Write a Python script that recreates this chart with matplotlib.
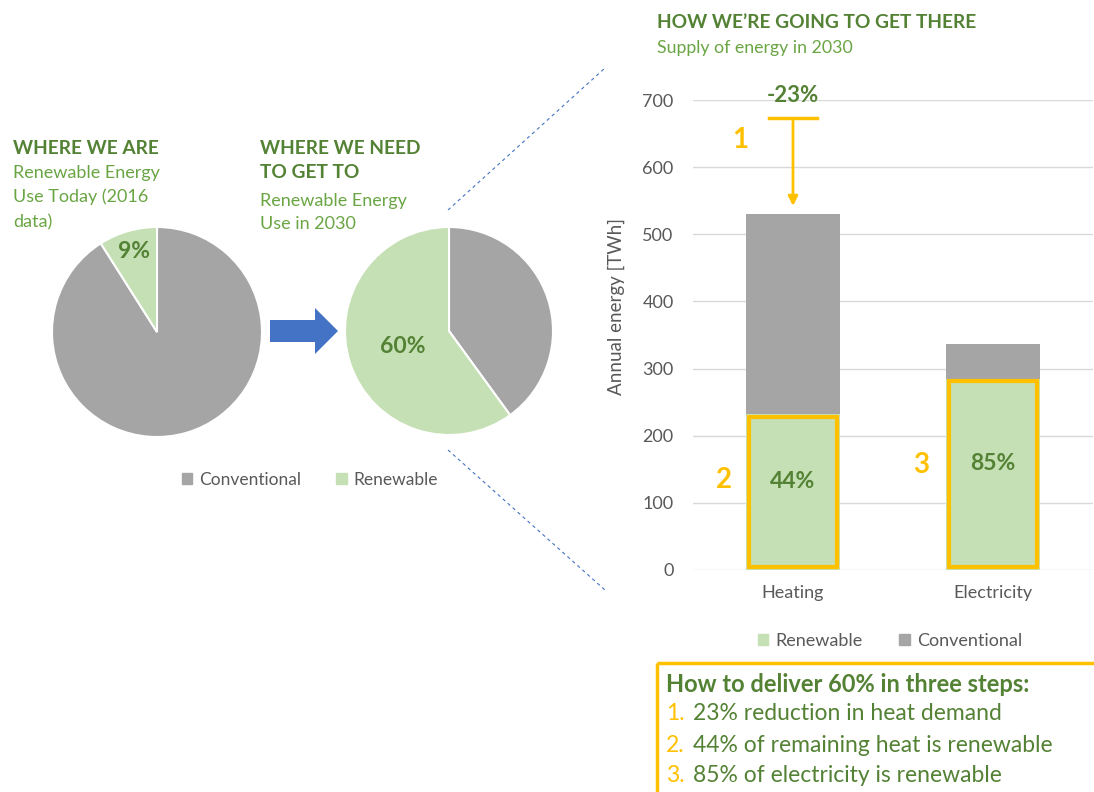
import numpy as np
import matplotlib
matplotlib.use("Agg")
import matplotlib.pyplot as plt
from matplotlib.patches import Patch, FancyArrow, Rectangle

plt.rcParams['font.family'] = ['Lato', 'DejaVu Sans']

W, H = 1094, 792

# pie data
pie_labels = ["Conventional", "Renewable"]
share_today = [91, 9]
share_2030 = [40, 60]
pie_text = ["9%", "60%"]

# bar data (TWh)
categories = ["Heating", "Electricity"]
renewable = [232, 285]
conventional = [298, 51]
renew_pct = ["44%", "85%"]
step_nums = ["2", "3"]
heat_before = 673
reduction_label = "-23%"

steps = ["23% reduction in heat demand",
         "44% of remaining heat is renewable",
         "85% of electricity is renewable"]

GREY = "#A5A5A5"
LGREEN = "#C5E0B4"
ORANGE = "#FFC000"
DGREEN = "#548235"
MGREEN = "#6AA544"
AXIS = "#595959"
BLUE = "#4472C4"

fig = plt.figure(figsize=(W / 100, H / 100), dpi=100)


def px_axes(x0, y0, w, h):
    return fig.add_axes([x0 / W, 1 - (y0 + h) / H, w / W, h / H])


# overlay in pixel coords for text and decorations
over = px_axes(0, 0, W, H)
over.set_xlim(0, W)
over.set_ylim(H, 0)
over.axis('off')

# --- pies
for (cx, cy, r, vals, lab, dist) in [(157, 332, 105, share_today, pie_text[0], 0.8),
                                     (449, 331, 104, share_2030, pie_text[1], 0.47)]:
    ax = px_axes(cx - r, cy - r, 2 * r, 2 * r)
    wedges, _ = ax.pie(vals, colors=[GREY, LGREEN], startangle=90, counterclock=False,
                       wedgeprops=dict(edgecolor='white', linewidth=1.5))
    ax.set_xlim(-1, 1)
    ax.set_ylim(-1, 1)
    w = wedges[1]
    mid = np.deg2rad((w.theta1 + w.theta2) / 2)
    ax.text(dist * np.cos(mid), dist * np.sin(mid), lab, ha='center', va='center',
            fontsize=16.5, fontweight='bold', color=DGREEN)

fig.legend(handles=[Patch(color=GREY, label=pie_labels[0]), Patch(color=LGREEN, label=pie_labels[1])],
           loc='center', bbox_to_anchor=(310 / W, 1 - 480 / H), ncol=2, frameon=False,
           handlelength=0.6, handleheight=0.6, handletextpad=0.4, columnspacing=2.0,
           fontsize=12.5, labelcolor=AXIS)

# blue block arrow between pies
over.add_patch(FancyArrow(270, 331, 68, 0, width=22, head_width=46, head_length=23,
                          length_includes_head=True, color=BLUE, lw=0))

# dashed zoom lines
over.plot([448, 605], [210, 68], ls=(0, (3, 3)), color=BLUE, lw=0.8)
over.plot([448, 605], [450, 590], ls=(0, (3, 3)), color=BLUE, lw=0.8)

# --- bar chart
bx = px_axes(693, 100, 400, 470)
x = np.arange(len(categories))
bx.bar(x, renewable, width=0.47, color=LGREEN)
bx.bar(x, conventional, bottom=renewable, width=0.47, color=GREY)
bx.bar(x, [v - 8 for v in renewable], bottom=4, width=0.44, fill=False,
       edgecolor=ORANGE, linewidth=3)
bx.set_xlim(-0.5, 1.5)
bx.set_ylim(0, 700)
bx.set_yticks(range(0, 701, 100))
bx.set_xticks(x, categories)
bx.yaxis.grid(True, color='#D9D9D9', lw=1)
bx.set_axisbelow(True)
for s in bx.spines.values():
    s.set_visible(False)
bx.tick_params(axis='y', length=0, pad=14, labelsize=13, labelcolor=AXIS)
bx.tick_params(axis='x', length=0, pad=11, labelsize=13, labelcolor=AXIS)
bx.set_ylabel("Annual energy [TWh]", fontsize=13.5, color=AXIS)
bx.yaxis.set_label_coords(-0.17, 0.56)
bx.set_facecolor('none')

for i in x:
    bx.text(i, renewable[i] / 2 + 16, renew_pct[i], ha='center', va='center',
            fontsize=16.5, fontweight='bold', color=DGREEN)
bx.text(-0.345, renewable[0] / 2 + 18, step_nums[0], ha='center', va='center',
        fontsize=20, fontweight='bold', color=ORANGE)
bx.text(0.64, renewable[1] / 2 + 14, step_nums[1], ha='center', va='center',
        fontsize=20, fontweight='bold', color=ORANGE)

heat_total = renewable[0] + conventional[0]
bx.plot([-0.12, 0.12], [heat_before, heat_before], color=ORANGE, lw=2.5, clip_on=False)
bx.annotate("", xy=(0, heat_total + 8), xytext=(0, heat_before),
            arrowprops=dict(arrowstyle='-|>', color=ORANGE, lw=2, mutation_scale=14),
            annotation_clip=False)
bx.text(0, 706, reduction_label, ha='center', va='center', fontsize=16,
        fontweight='bold', color=DGREEN, clip_on=False)
bx.text(-0.265, 641, "1", ha='center', va='center', fontsize=20,
        fontweight='bold', color=ORANGE, clip_on=False)

fig.legend(handles=[Patch(color=LGREEN, label="Renewable"), Patch(color=GREY, label="Conventional")],
           loc='center', bbox_to_anchor=(890 / W, 1 - 641 / H), ncol=2, frameon=False,
           handlelength=0.6, handleheight=0.6, handletextpad=0.4, columnspacing=2.0,
           fontsize=13, labelcolor=AXIS)

# --- headings
over.text(13, 148, "WHERE WE ARE", fontsize=13.8, fontweight='bold', color=DGREEN, va='center')
for yy, t in zip([173, 197, 222], ["Renewable Energy", "Use Today (2016", "data)"]):
    over.text(13, yy, t, fontsize=13, color=MGREEN, va='center')
for yy, t in zip([148, 173], ["WHERE WE NEED", "TO GET TO"]):
    over.text(260, yy, t, fontsize=13.8, fontweight='bold', color=DGREEN, va='center')
for yy, t in zip([201, 224], ["Renewable Energy", "Use in 2030"]):
    over.text(260, yy, t, fontsize=13, color=MGREEN, va='center')
over.text(657, 23, "HOW WE\u2019RE GOING TO GET THERE", fontsize=13.8, fontweight='bold',
          color=DGREEN, va='center')
over.text(657, 48, "Supply of energy in 2030", fontsize=12.8, color=MGREEN, va='center')

# --- summary box
over.add_patch(Rectangle((657, 663), 460, 160, fill=False, edgecolor=ORANGE, lw=2.5))
over.text(666, 685, "How to deliver 60% in three steps:", fontsize=17, fontweight='bold',
          color=DGREEN, va='center')
for k, (yy, t) in enumerate(zip([714, 745, 775], steps)):
    over.text(666, yy, f"{k + 1}.", fontsize=16.5, color=ORANGE, va='center')
    over.text(693, yy, t, fontsize=16.5, color=DGREEN, va='center')

fig.savefig("out.png", dpi=100)
